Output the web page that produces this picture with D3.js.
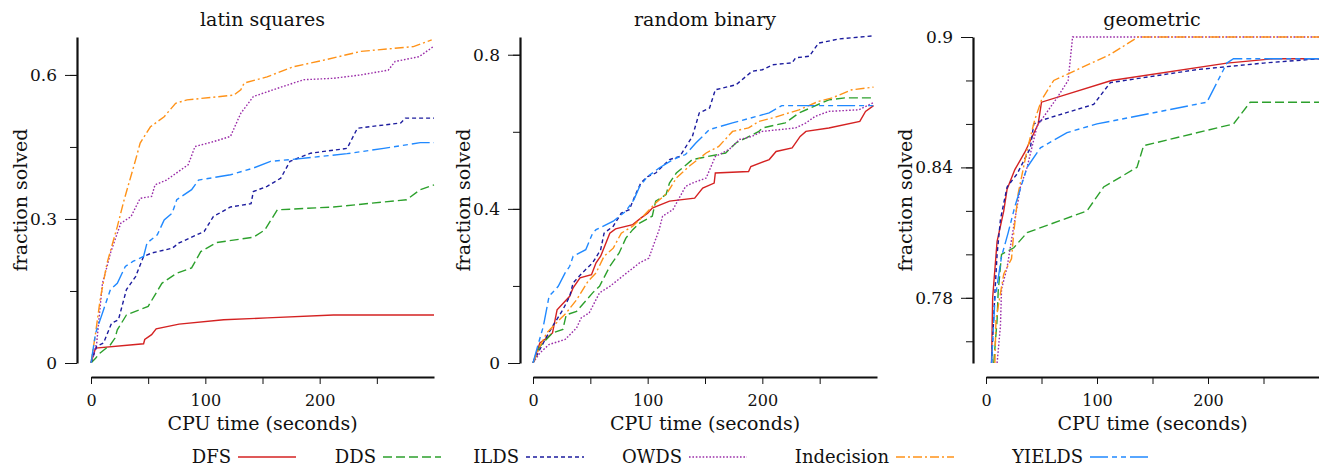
<!DOCTYPE html>
<html>
<head>
<meta charset="utf-8">
<script src="https://cdn.jsdelivr.net/npm/d3@7"></script>
<style>
  body { margin: 0; background: #fff; }
  svg { display: block; }
  .axis path, .axis line { stroke: #111; }
</style>
</head>
<body>
<div id="chart"></div>
<script>
// series names (legend order)
const algorithms = ["DFS", "DDS", "ILDS", "OWDS", "Indecision", "YIELDS"];
const panelTitles = ["latin squares", "random binary", "geometric"];

// [CPU seconds, fraction solved]
const latinDFS = [[0,0],[4,0.031],[46,0.040],[47,0.049],[53,0.059],[57,0.071],[77,0.081],[116,0.090],[154,0.094],[212,0.100],[300,0.100]];
const latinDDS = [[0,0],[4,0.010],[8,0.021],[17,0.038],[21,0.052],[23,0.069],[31,0.100],[50,0.118],[56,0.142],[62,0.166],[75,0.187],[88,0.198],[96,0.232],[110,0.251],[142,0.262],[152,0.277],[163,0.319],[212,0.325],[276,0.340],[288,0.361],[300,0.371]];
const latinILDS = [[0,0],[5,0.035],[11,0.042],[18,0.083],[24,0.090],[31,0.153],[39,0.180],[46,0.222],[53,0.229],[71,0.239],[77,0.250],[99,0.274],[107,0.305],[122,0.325],[140,0.332],[142,0.357],[154,0.368],[166,0.385],[174,0.420],[192,0.437],[224,0.447],[233,0.489],[271,0.500],[275,0.510],[300,0.510]];
const latinOWDS = [[0,0],[5,0.042],[10,0.166],[14,0.201],[17,0.229],[26,0.291],[35,0.305],[43,0.343],[53,0.347],[56,0.371],[66,0.381],[85,0.413],[91,0.451],[107,0.461],[122,0.472],[131,0.520],[142,0.555],[163,0.572],[186,0.590],[212,0.593],[236,0.600],[260,0.610],[266,0.628],[287,0.638],[300,0.660]];
const latinIndecision = [[0,0],[4,0.062],[8,0.132],[14,0.208],[23,0.284],[29,0.340],[39,0.423],[43,0.458],[52,0.492],[64,0.513],[74,0.541],[84,0.548],[125,0.558],[131,0.569],[134,0.583],[154,0.596],[177,0.617],[204,0.631],[236,0.649],[282,0.659],[298,0.673]];
const latinYIELDS = [[0,0],[4,0.062],[11,0.111],[17,0.153],[23,0.166],[30,0.201],[37,0.212],[46,0.222],[49,0.250],[58,0.267],[64,0.298],[71,0.312],[75,0.340],[88,0.361],[94,0.381],[122,0.392],[142,0.406],[157,0.420],[176,0.424],[224,0.436],[256,0.447],[288,0.459],[300,0.459]];

const binaryDFS = [[0,0],[6,0.052],[12,0.065],[17,0.078],[21,0.138],[32,0.173],[35,0.195],[41,0.221],[51,0.229],[55,0.260],[59,0.277],[67,0.337],[72,0.348],[87,0.359],[94,0.376],[100,0.389],[104,0.402],[119,0.420],[141,0.428],[148,0.454],[158,0.467],[159,0.493],[188,0.497],[190,0.510],[206,0.528],[212,0.549],[226,0.558],[233,0.588],[238,0.601],[258,0.610],[285,0.627],[290,0.653],[297,0.668]];
const binaryDDS = [[0,0],[6,0.043],[17,0.078],[26,0.087],[29,0.125],[38,0.134],[52,0.182],[58,0.199],[67,0.251],[75,0.285],[81,0.324],[87,0.346],[93,0.363],[104,0.381],[107,0.420],[116,0.437],[119,0.467],[125,0.493],[139,0.528],[168,0.545],[177,0.571],[186,0.584],[197,0.601],[200,0.610],[220,0.623],[232,0.649],[258,0.683],[272,0.688],[297,0.688]];
const binaryILDS = [[0,0],[6,0.035],[12,0.069],[17,0.095],[26,0.138],[32,0.173],[35,0.208],[43,0.234],[52,0.260],[59,0.294],[62,0.337],[70,0.355],[77,0.389],[84,0.398],[90,0.441],[94,0.467],[100,0.484],[107,0.493],[119,0.528],[128,0.536],[139,0.588],[145,0.649],[154,0.662],[159,0.709],[177,0.722],[191,0.757],[200,0.761],[209,0.774],[226,0.779],[229,0.792],[241,0.796],[249,0.830],[267,0.841],[297,0.849]];
const binaryOWDS = [[0,0],[6,0.026],[14,0.048],[28,0.061],[38,0.091],[42,0.117],[49,0.130],[58,0.182],[67,0.199],[78,0.225],[93,0.260],[101,0.272],[110,0.346],[113,0.381],[122,0.398],[133,0.458],[139,0.467],[151,0.480],[159,0.536],[171,0.554],[180,0.580],[191,0.588],[200,0.601],[229,0.610],[238,0.623],[246,0.640],[258,0.653],[284,0.657],[297,0.676]];
const binaryIndecision = [[0,0],[6,0.043],[12,0.078],[23,0.112],[29,0.130],[38,0.164],[48,0.212],[55,0.234],[62,0.277],[70,0.298],[77,0.337],[87,0.355],[96,0.381],[107,0.415],[117,0.441],[125,0.480],[136,0.510],[151,0.545],[162,0.562],[174,0.601],[188,0.610],[197,0.627],[209,0.636],[232,0.657],[249,0.679],[261,0.688],[278,0.709],[297,0.716]];
const binaryYIELDS = [[0,0],[4,0.043],[9,0.095],[14,0.173],[22,0.199],[28,0.234],[32,0.251],[35,0.277],[46,0.294],[52,0.337],[55,0.346],[70,0.368],[81,0.394],[88,0.424],[93,0.458],[100,0.484],[110,0.506],[122,0.528],[133,0.541],[142,0.571],[154,0.606],[174,0.623],[206,0.649],[217,0.668],[299,0.668]];

const geomDFS = [[5,0.75],[6,0.780],[10,0.806],[16,0.820],[19,0.830],[26,0.839],[35,0.847],[47,0.860],[50,0.870],[113,0.880],[217,0.888],[259,0.890],[300,0.890]];
const geomDDS = [[7,0.75],[10,0.770],[11,0.783],[14,0.800],[25,0.803],[37,0.810],[91,0.820],[106,0.831],[136,0.840],[142,0.850],[223,0.860],[238,0.870],[300,0.870]];
const geomILDS = [[5,0.75],[8,0.782],[10,0.800],[13,0.816],[19,0.831],[28,0.837],[40,0.849],[43,0.860],[52,0.862],[97,0.869],[112,0.879],[190,0.885],[250,0.888],[300,0.890]];
const geomOWDS = [[10,0.75],[13,0.767],[14,0.784],[19,0.794],[25,0.813],[31,0.831],[37,0.840],[46,0.859],[64,0.872],[74,0.880],[78,0.900],[300,0.900]];
const geomIndecision = [[8,0.75],[9,0.770],[16,0.791],[23,0.798],[25,0.810],[29,0.828],[37,0.848],[44,0.862],[50,0.871],[61,0.880],[112,0.892],[137,0.900],[300,0.900]];
const geomYIELDS = [[5,0.75],[8,0.779],[14,0.799],[20,0.810],[26,0.822],[37,0.840],[49,0.849],[73,0.856],[100,0.860],[199,0.870],[217,0.888],[223,0.890],[300,0.890]];

// axis ticks
const xTicks = [0, 50, 100, 150, 200, 250];
const xLabels = [0, 100, 200];
const latinYTicks = [0, 0.15, 0.3, 0.45, 0.6];
const latinYLabels = [0, 0.3, 0.6];
const binaryYTicks = [0, 0.2, 0.4, 0.6, 0.8];
const binaryYLabels = [0, 0.4, 0.8];
const geomYTicks = [0.76, 0.78, 0.80, 0.82, 0.84, 0.86, 0.88, 0.90];
const geomYLabels = [0.78, 0.84, 0.9];

const colors = ["#d42222", "#2ca02c", "#1c1c9e", "#9a2ca8", "#ff9218", "#2089ff"];
const dashes = [null, "9,4", "4,3", "1.6,1.8", "9,3,2,3", "18,4,5,4,5,4"];
const FONT = "DejaVu Serif";

class PerfPlot {
  /**
   * one panel: CPU time vs fraction solved
   */
  constructor(_config, _series) {
    this.config = _config;
    this.series = _series;
    this.initVis();
  }

  initVis() {
    let vis = this;
    const c = vis.config;
    const g = c.svg.append("g");

    vis.x = d3.scaleLinear().domain([0, 300]).range([c.left, c.right]);
    vis.y = d3.scaleLinear().domain(c.yDomain).range([363, 37]);

    // minor y ticks
    g.append("g")
      .attr("class", "axis")
      .attr("transform", `translate(${c.axisX},0)`)
      .call(d3.axisLeft(vis.y).tickValues(c.yTicks).tickSize(7).tickSizeOuter(0).tickFormat(""))
      .call((a) => a.select(".domain").attr("stroke-width", 2.2));
    // labelled y ticks
    g.append("g")
      .attr("class", "axis")
      .attr("transform", `translate(${c.axisX},0)`)
      .call(d3.axisLeft(vis.y).tickValues(c.yLabels).tickSize(12).tickSizeOuter(0).tickPadding(8).tickFormat((d) => String(+d.toFixed(2))))
      .call((a) => a.select(".domain").remove())
      .call((a) => a.selectAll("text").attr("font-size", 17).attr("font-family", FONT).attr("fill", "#111"));

    // x axis
    g.append("g")
      .attr("class", "axis")
      .attr("transform", "translate(0,377)")
      .call(d3.axisBottom(vis.x).tickValues(xTicks).tickSize(7).tickSizeOuter(0).tickPadding(11).tickFormat((d) => (xLabels.includes(d) ? d : "")))
      .call((a) => a.select(".domain").attr("stroke-width", 2.2))
      .call((a) => a.selectAll("text").attr("font-size", 16).attr("font-family", FONT).attr("fill", "#111"));

    const mid = (c.left + c.right) / 2;
    g.append("text").attr("x", c.titleX || mid).attr("y", 26)
      .attr("text-anchor", "middle").attr("font-family", FONT).attr("font-size", 19).attr("fill", "#111").text(c.title);
    g.append("text").attr("x", mid).attr("y", 430)
      .attr("text-anchor", "middle").attr("font-family", FONT).attr("font-size", 19).attr("fill", "#111").text("CPU time (seconds)");
    g.append("text")
      .attr("transform", `translate(${c.labelX},200) rotate(-90)`)
      .attr("text-anchor", "middle").attr("font-family", FONT).attr("font-size", 19).attr("fill", "#111").text("fraction solved");

    const clipId = "clip" + c.id;
    g.append("clipPath").attr("id", clipId).append("rect")
      .attr("x", c.left - 5).attr("y", 30).attr("width", c.right - c.left + 10).attr("height", 333);

    const line = d3.line().x((d) => vis.x(d[0])).y((d) => vis.y(d[1]));
    g.append("g").attr("clip-path", `url(#${clipId})`)
      .selectAll("path")
      .data(vis.series)
      .join("path")
      .attr("d", (d) => line(d))
      .attr("fill", "none")
      .attr("stroke", (d, i) => colors[i])
      .attr("stroke-width", 1.4)
      .attr("stroke-dasharray", (d, i) => dashes[i]);
  }
}

const svg = d3.select("#chart").append("svg").attr("width", 1319).attr("height", 468);

new PerfPlot({ svg, id: 1, title: panelTitles[0], axisX: 77, labelX: 27, left: 91, right: 434, yDomain: [0, 0.679], yTicks: latinYTicks, yLabels: latinYLabels },
  [latinDFS, latinDDS, latinILDS, latinOWDS, latinIndecision, latinYIELDS]);
new PerfPlot({ svg, id: 2, title: panelTitles[1], axisX: 520, labelX: 470, left: 533, right: 877, yDomain: [0, 0.846], yTicks: binaryYTicks, yLabels: binaryYLabels },
  [binaryDFS, binaryDDS, binaryILDS, binaryOWDS, binaryIndecision, binaryYIELDS]);
new PerfPlot({ svg, id: 3, title: panelTitles[2], axisX: 973, labelX: 912, left: 986, right: 1319, titleX: 1152, yDomain: [0.75, 0.9], yTicks: geomYTicks, yLabels: geomYLabels },
  [geomDFS, geomDDS, geomILDS, geomOWDS, geomIndecision, geomYIELDS]);

// legend
const legendLineX = [238, 383, 526, 689, 896, 1090];
const legend = svg.append("g").attr("transform", "translate(0,457)");
algorithms.forEach((name, i) => {
  legend.append("text").attr("x", legendLineX[i] - 7).attr("y", 6)
    .attr("text-anchor", "end").attr("font-family", FONT).attr("font-size", 18).attr("fill", "#111").text(name);
  legend.append("line")
    .attr("x1", legendLineX[i]).attr("x2", legendLineX[i] + 58)
    .attr("stroke", colors[i]).attr("stroke-width", 1.4)
    .attr("stroke-dasharray", dashes[i]);
});
</script>
</body>
</html>
